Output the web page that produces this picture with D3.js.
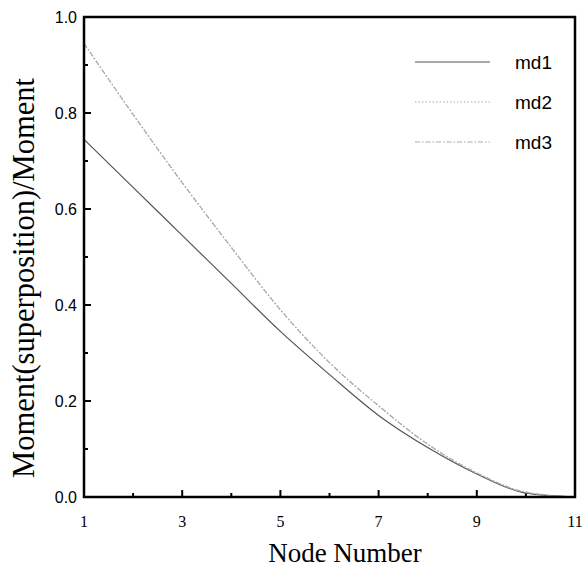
<!DOCTYPE html>
<meta charset="utf-8">
<title>Moment ratio by node</title>
<style>
  body { margin: 0; background: #fff; }
  .frame { fill: none; stroke: #000; stroke-width: 2.5px; }
  .tick line { stroke: #000; }
  .ylab { font-family: Arial, "Liberation Sans", sans-serif; font-size: 16px; }
  .xlab { font-family: "Times New Roman", "Liberation Serif", serif; font-size: 16px; }
  .title { font-family: "Times New Roman", "Liberation Serif", serif; font-size: 27px; }
  .ytitle { font-size: 30.5px; }
  .legend text { font-family: Arial, "Liberation Sans", sans-serif; font-size: 19px; }
</style>
<svg width="583" height="568"></svg>
<script src="https://d3js.org/d3.v7.min.js"></script>
<script>
  // node numbers and series values
  var nodes = [1, 2, 3, 4, 5, 6, 7, 8, 9, 10, 11];
  var md1 = [0.745, 0.645, 0.545, 0.445, 0.345, 0.255, 0.17, 0.103, 0.048, 0.008, 0.0];
  var md2 = [0.945, 0.797, 0.655, 0.52, 0.39, 0.28, 0.19, 0.11, 0.05, 0.01, 0.0];
  var md3 = [0.945, 0.797, 0.655, 0.52, 0.39, 0.28, 0.19, 0.11, 0.05, 0.01, 0.0];
  var xTickLabels = [1, 3, 5, 7, 9, 11];
  var yTickLabels = [0.0, 0.2, 0.4, 0.6, 0.8, 1.0];

  var series = [
    { name: "md1", values: md1, color: "#555", dash: null },
    { name: "md2", values: md2, color: "#aaa", dash: "1.5,2" },
    { name: "md3", values: md3, color: "#aaa", dash: "5,2,1.5,2" }
  ];

  var svg = d3.select("svg"),
    margin = { left: 84, right: 8, top: 17, bottom: 71 },
    width = +svg.attr("width") - margin.left - margin.right,
    height = +svg.attr("height") - margin.top - margin.bottom;

  var x = d3.scaleLinear().domain([1, 11]).range([0, width]);
  var y = d3.scaleLinear().domain([0, 1]).range([height, 0]);

  var g = svg.append("g").attr("transform", "translate(" + margin.left + "," + margin.top + ")");

  // minor + major ticks pointing inward
  var xt = g.append("g").attr("class", "tick");
  xt.selectAll("line").data(d3.range(2, 11)).enter().append("line")
    .attr("x1", d => x(d)).attr("x2", d => x(d))
    .attr("y1", height).attr("y2", d => height - (d % 2 ? 7 : 4))
    .attr("stroke-width", 2);
  var yt = g.append("g").attr("class", "tick");
  yt.selectAll("line").data(d3.range(1, 10).map(d => d / 10)).enter().append("line")
    .attr("y1", d => y(d)).attr("y2", d => y(d))
    .attr("x1", 0).attr("x2", (d, i) => (i % 2 ? 7 : 4))
    .attr("stroke-width", 2);

  g.selectAll(".xlab").data(xTickLabels).enter().append("text")
    .attr("class", "xlab")
    .attr("x", d => x(d)).attr("y", height + 30)
    .attr("text-anchor", "middle")
    .text(d => d);

  g.selectAll(".ylab").data(yTickLabels).enter().append("text")
    .attr("class", "ylab")
    .attr("x", -7).attr("y", d => y(d))
    .attr("dy", "0.35em")
    .attr("text-anchor", "end")
    .text(d => d.toFixed(1));

  var line = d3.line()
    .x((d, i) => x(nodes[i]))
    .y(d => y(d))
    .curve(d3.curveMonotoneX);

  g.selectAll(".series").data(series).enter().append("path")
    .attr("class", "series")
    .attr("fill", "none")
    .attr("stroke", d => d.color)
    .attr("stroke-width", 1.2)
    .attr("stroke-dasharray", d => d.dash)
    .attr("d", d => line(d.values));

  g.append("rect").attr("class", "frame")
    .attr("width", width).attr("height", height);

  var legend = g.append("g").attr("class", "legend")
    .attr("transform", "translate(" + (415 - margin.left) + "," + (62 - margin.top) + ")");
  var item = legend.selectAll("g").data(series).enter().append("g")
    .attr("transform", (d, i) => "translate(0," + i * 40 + ")");
  item.append("line")
    .attr("x1", 0).attr("x2", 75)
    .attr("stroke", d => d.color)
    .attr("stroke-width", 1.2)
    .attr("stroke-dasharray", d => d.dash);
  item.append("text")
    .attr("x", 100).attr("dy", "0.35em")
    .text(d => d.name);

  svg.append("text").attr("class", "title")
    .attr("x", 345).attr("y", 562)
    .attr("text-anchor", "middle")
    .text("Node Number");

  svg.append("text").attr("class", "title ytitle")
    .attr("transform", "translate(34,278) rotate(-90)")
    .attr("text-anchor", "middle")
    .text("Moment(superposition)/Moment");
</script>
